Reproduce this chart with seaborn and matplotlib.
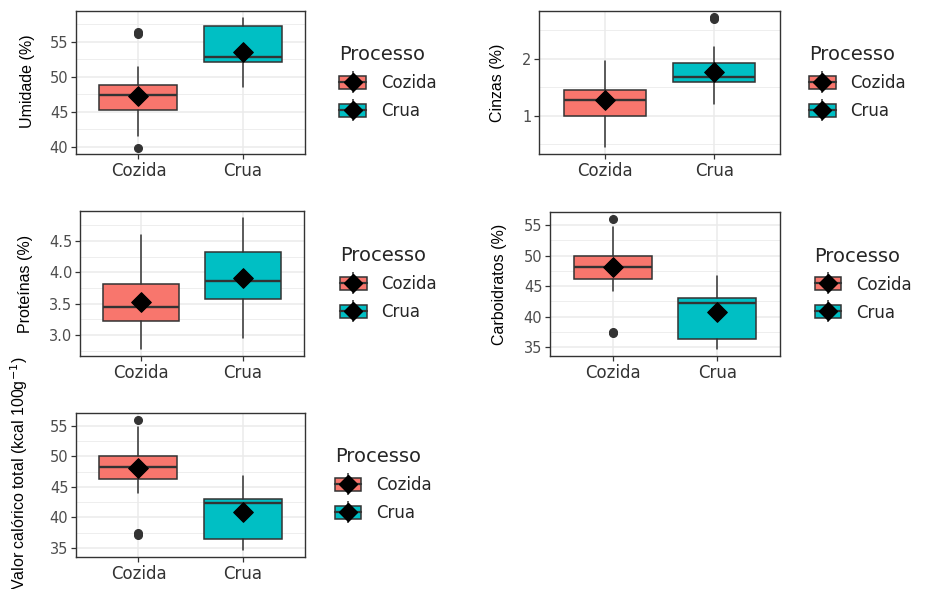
import numpy as np
import matplotlib.pyplot as plt
import seaborn as sns
from matplotlib.patches import Patch
from matplotlib.lines import Line2D
from matplotlib.legend_handler import HandlerTuple
from matplotlib.ticker import MultipleLocator, FormatStrFormatter

# Values (Cozida, Crua) for each variable
groups = ['Cozida', 'Crua']
colors = ['#F8766D', '#00BFC4']

ylabels = ['Umidade (%)', 'Cinzas (%)', 'Proteínas (%)', 'Carboidratos (%)',
           r'Valor calórico total (kcal 100g$^{-1}$)']

whisk_lo = [[41.6, 48.6], [0.44, 1.20], [2.77, 2.95], [44.2, 34.6], [44.0, 34.6]]
q1 = [[45.3, 52.1], [1.00, 1.58], [3.23, 3.58], [46.1, 36.3], [46.2, 36.4]]
median = [[47.4, 52.8], [1.28, 1.67], [3.44, 3.86], [48.2, 42.3], [48.3, 42.3]]
q3 = [[48.8, 57.3], [1.44, 1.92], [3.81, 4.32], [49.9, 43.0], [50.0, 43.0]]
whisk_hi = [[51.4, 58.5], [1.96, 2.20], [4.60, 4.87], [54.7, 46.6], [54.7, 46.7]]
means = [[47.2, 53.6], [1.27, 1.76], [3.52, 3.90], [48.1, 40.8], [48.1, 40.9]]
outliers = [[[56.1, 56.4, 39.9], []],
            [[], [2.70, 2.72]],
            [[], []],
            [[56.1, 37.3, 37.5], []],
            [[56.0, 37.2, 37.4], []]]

ytick_step = [5, 1, 0.5, 5, 5]
ytick_fmt = ['%d', '%d', '%.1f', '%d', '%d']

# panel boxes in pixels: left, top, right, bottom
W, H = 932, 589
panels = [(76, 11, 305, 154), (539, 11, 780, 154), (80, 211, 304, 356),
          (550, 212, 780, 356), (76, 413, 305, 557)]
legend_x = [1.15, 1.12, 1.16, 1.15, 1.13]
# y-label anchor (axes coords)
label_pos = [(-0.179, 0.51), (-0.141, 0.5), (-0.21, 0.5), (-0.187, 0.5), (-0.20, 0.58)]

sns.set_theme(style='white')
plt.rcParams['font.family'] = ['DejaVu Sans']

fig = plt.figure(figsize=(W / 100, H / 100), dpi=100)

for i in range(5):
    l, t, r, b = panels[i]
    ax = fig.add_axes([l / W, 1 - b / H, (r - l) / W, (b - t) / H])
    ax.set_axisbelow(True)

    stats = []
    for j in range(2):
        stats.append(dict(med=median[i][j], q1=q1[i][j], q3=q3[i][j],
                          whislo=whisk_lo[i][j], whishi=whisk_hi[i][j],
                          fliers=outliers[i][j], label=groups[j]))
    res = ax.bxp(stats, positions=[0, 1], widths=0.75, patch_artist=True,
                 showcaps=False, manage_ticks=False,
                 boxprops=dict(edgecolor='#333333', linewidth=1.1),
                 whiskerprops=dict(color='#333333', linewidth=1.1),
                 medianprops=dict(color='#333333', linewidth=1.7),
                 flierprops=dict(marker='o', markerfacecolor='#333333',
                                 markeredgecolor='#333333', markersize=5.5))
    for j, box in enumerate(res['boxes']):
        box.set_facecolor(colors[j])

    sns.scatterplot(x=[0, 1], y=means[i], marker='D', s=100, color='black',
                    edgecolor='black', ax=ax, zorder=5, legend=False)

    # ggplot-like 5% expansion of the data range
    allv = whisk_lo[i] + whisk_hi[i] + sum(outliers[i], [])
    lo, hi = min(allv), max(allv)
    pad = (hi - lo) * 0.05
    ax.set_ylim(lo - pad, hi + pad)
    ax.set_xlim(-0.6, 1.6)
    ax.set_xticks([0, 1])
    ax.set_xticklabels(groups)

    ax.yaxis.set_major_locator(MultipleLocator(ytick_step[i]))
    ax.yaxis.set_minor_locator(MultipleLocator(ytick_step[i] / 2))
    ax.yaxis.set_major_formatter(FormatStrFormatter(ytick_fmt[i]))
    ax.grid(which='major', color='#EBEBEB', linewidth=1.1)
    ax.grid(which='minor', axis='y', color='#EBEBEB', linewidth=0.6)

    ax.tick_params(which='major', length=3.5, width=0.9, color='#333333',
                   direction='out', bottom=True, left=True)
    ax.tick_params(which='minor', length=0)
    ax.tick_params(axis='y', labelsize=10.5, labelcolor='#4D4D4D', pad=2)
    ax.tick_params(axis='x', labelsize=12, labelcolor='#333333', pad=2)
    for sp in ax.spines.values():
        sp.set_color('#333333')
        sp.set_linewidth(1.0)

    ax.set_xlabel('')
    ax.set_ylabel(ylabels[i], fontsize=11.5, color='black',
                  family=['Liberation Sans', 'DejaVu Sans'])
    ax.yaxis.set_label_coords(*label_pos[i])

    handles = [(Line2D([], [], ls='none', marker='|', markersize=16,
                       markeredgewidth=1.1, color='#333333'),
                Patch(facecolor=c, edgecolor='#333333', linewidth=1.1),
                Line2D([], [], color='#333333', linewidth=1.6),
                Line2D([], [], ls='none', marker='D', markersize=9,
                       color='black'))
               for c in colors]
    leg = ax.legend(handles, groups, handler_map={tuple: HandlerTuple(ndivide=1)},
                    title='Processo', loc='center left',
                    bbox_to_anchor=(legend_x[i], 0.5), frameon=False,
                    fontsize=12, title_fontsize=14, alignment='left',
                    handlelength=1.6, handleheight=0.85, handletextpad=0.9,
                    labelspacing=0.6, borderaxespad=0, borderpad=0)

fig.savefig('out.png', dpi=100)
